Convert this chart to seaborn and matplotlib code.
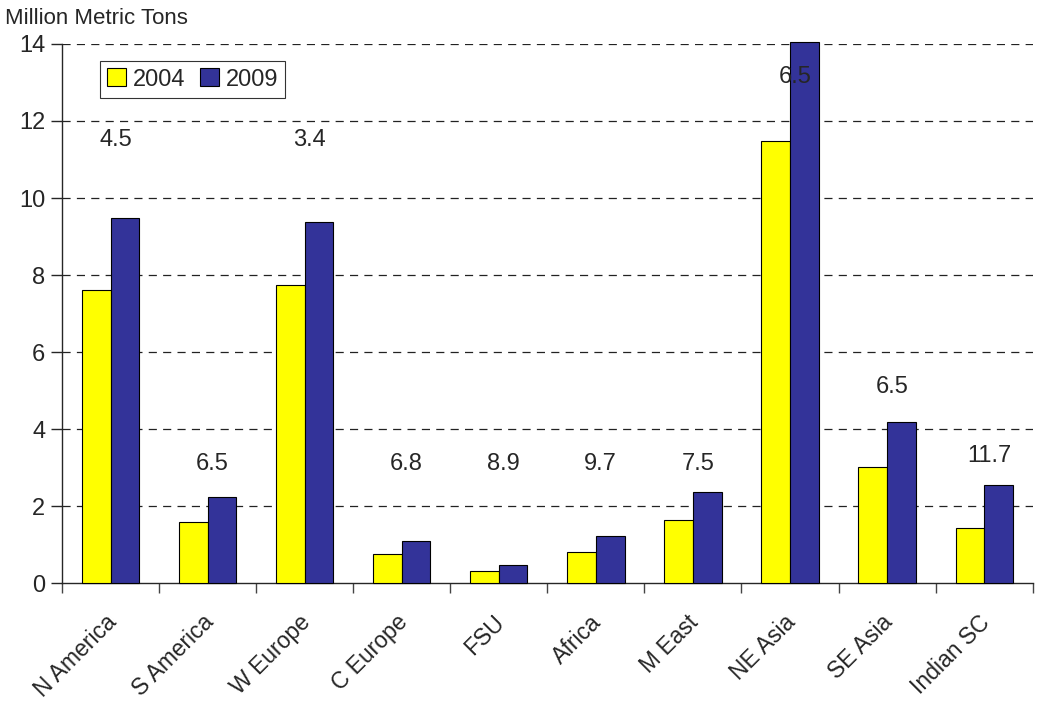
import matplotlib
matplotlib.use("Agg")
import matplotlib.pyplot as plt
import matplotlib.transforms as mtransforms
import seaborn as sns
import pandas as pd
import numpy as np

regions = ["N America", "S America", "W Europe", "C Europe", "FSU",
           "Africa", "M East", "NE Asia", "SE Asia", "Indian SC"]
vals_2004 = [7.62, 1.58, 7.75, 0.75, 0.31, 0.80, 1.64, 11.48, 3.01, 1.43]
vals_2009 = [9.47, 2.23, 9.38, 1.08, 0.48, 1.22, 2.36, 14.05, 4.18, 2.54]
growth = ["4.5", "6.5", "3.4", "6.8", "8.9", "9.7", "7.5", "6.5", "6.5", "11.7"]
growth_y = [11.5, 3.1, 11.5, 3.1, 3.1, 3.1, 3.1, 13.15, 5.1, 3.3]
years = ["2004", "2009"]

df = pd.DataFrame({
    "region": regions * 2,
    "year": [years[0]] * len(regions) + [years[1]] * len(regions),
    "value": vals_2004 + vals_2009,
})

sns.set_style("ticks")
plt.rcParams["font.family"] = ["Liberation Sans", "DejaVu Sans"]
FS = 17

fig = plt.figure(figsize=(10.41, 7.05), dpi=100)
ax = fig.add_axes([0.0596, 0.173, 0.9324, 0.7646])

sns.barplot(data=df, x="region", y="value", hue="year", order=regions,
            hue_order=years, palette=["#FFFF00", "#333399"], width=0.59,
            edgecolor="black", linewidth=0.8, ax=ax, saturation=1, zorder=3)
for p in ax.patches:
    p.set_clip_on(False)

ax.set_ylim(0, 14)
ax.set_xlim(-0.5, len(regions) - 0.5)
ax.set_yticks(np.arange(0, 15, 2))
for yv in np.arange(2, 15, 2):
    ax.axhline(yv, color="#222222", linestyle=(0, (6.5, 5)), linewidth=0.9, zorder=1)

ax.set_xlabel("")
ax.set_ylabel("")
ax.tick_params(axis="y", labelsize=FS, length=8, width=1, direction="out", pad=4)
ax.set_xticks(range(len(regions)))
ax.set_xticklabels(regions, rotation=45, ha="right", rotation_mode="anchor", fontsize=16.5)
ax.tick_params(axis="x", length=0, pad=20)
offset = mtransforms.ScaledTranslation(-0.06, 0, fig.dpi_scale_trans)
for lab in ax.get_xticklabels():
    lab.set_transform(lab.get_transform() + offset)
# category boundary ticks
ax.set_xticks(np.arange(-0.5, len(regions), 1), minor=True)
ax.tick_params(axis="x", which="minor", length=7, width=1, direction="out", color="#444444")

for s in ["top", "right"]:
    ax.spines[s].set_visible(False)
ax.spines["left"].set_linewidth(1)
ax.spines["bottom"].set_linewidth(1)

for i, (g, gy) in enumerate(zip(growth, growth_y)):
    ax.text(i + 0.05, gy, g, ha="center", va="center", fontsize=FS, zorder=5)

fig.text(0.005, 0.974, "Million Metric Tons", fontsize=16, ha="left", va="center")

leg = ax.legend(loc="upper left", bbox_to_anchor=(0.027, 0.99), ncol=2, fontsize=FS,
                frameon=True, fancybox=False, edgecolor="black", handlelength=0.8,
                handleheight=0.8, handletextpad=0.3, columnspacing=0.6,
                borderpad=0.3, title=None)
leg.get_frame().set_linewidth(0.8)

fig.savefig("out.png", dpi=100)
